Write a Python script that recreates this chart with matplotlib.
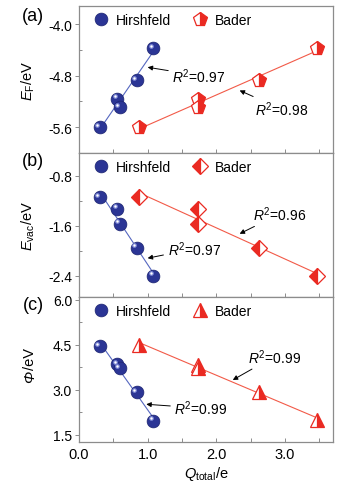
import numpy as np
import matplotlib
matplotlib.use('Agg')
import matplotlib.pyplot as plt
from matplotlib import transforms
from matplotlib.ticker import MultipleLocator, FormatStrFormatter

plt.rcParams['font.family'] = ['Liberation Sans', 'DejaVu Sans']
plt.rcParams['mathtext.fontset'] = 'custom'
plt.rcParams['mathtext.rm'] = 'Liberation Sans'
plt.rcParams['mathtext.it'] = 'Liberation Sans:italic'
plt.rcParams['axes.unicode_minus'] = False

# charge (x) values
q_hirsh = [0.30, 0.56, 0.59, 0.84, 1.08]
q_bader = [0.88, 1.74, 1.74, 2.62, 3.47]

# (a) Fermi level
ef_hirsh = [-5.60, -5.16, -5.29, -4.87, -4.37]
ef_bader = [-5.60, -5.16, -5.29, -4.87, -4.37]
# (b) vacuum level
evac_hirsh = [-1.15, -1.33, -1.57, -1.95, -2.40]
evac_bader = [-1.15, -1.33, -1.57, -1.95, -2.40]
# (c) work function
phi_hirsh = [4.46, 3.86, 3.72, 2.92, 1.97]
phi_bader = [4.50, 3.83, 3.74, 2.94, 2.00]

r2_hirsh = ['0.97', '0.97', '0.99']
r2_bader = ['0.98', '0.96', '0.99']

blue = '#2b3595'
red = '#ea2a22'
blue_line = '#5567c0'
red_line = '#f25a48'
spine_col = '#8c8c8c'

fig = plt.figure(figsize=(3.45, 4.89), dpi=100)
L, W = 79/345, 254/345
tops = [7, 154, 298, 443]
axes = []
for i in range(3):
    b = 1 - tops[i+1]/489
    h = (tops[i+1] - tops[i])/489
    axes.append(fig.add_axes([L, b, W, h]))

panels = [
    ('(a)', ef_hirsh, ef_bader, 'p', 'right', r'$\mathit{E}_{\mathrm{F}}$/eV', (-6.0, -3.72), 0.8, 0.4),
    ('(b)', evac_hirsh, evac_bader, 'D', 'left', r'$\mathit{E}_{\mathrm{vac}}$/eV', (-2.74, -0.44), 0.8, 0.4),
    ('(c)', phi_hirsh, phi_bader, '^', 'right', None, (1.26, 6.1), 1.5, 0.75),
]
msize = {'p': 10.5, 'D': 8.5, '^': 10}

# annotation positions (text, arrow tip) in data coords
ann_h = [((1.36, -4.80), (1.0, -4.67)), ((1.29, -1.97), (1.0, -2.12)), ((1.39, 2.39), (0.98, 2.52))]
ann_b = [((2.56, -5.32), (2.34, -5.03)), ((2.54, -1.41), (2.34, -1.73)), ((2.46, 4.12), (2.24, 3.33))]

for k, ax in enumerate(axes):
    lab, yh, yb, mk, fs, ylab, ylim, major, minor = panels[k]

    # linear fits
    for xs, ys, c in [(q_hirsh, yh, blue_line), (q_bader, yb, red_line)]:
        p = np.polyfit(xs, ys, 1)
        xx = np.array([min(xs), max(xs)])
        ax.plot(xx, np.polyval(p, xx), '-', color=c, lw=0.8, zorder=2)

    h1, = ax.plot(q_hirsh, yh, 'o', ms=9.2, color=blue, mec='#1c2470', mew=0.5,
                  ls='none', zorder=3)
    off = transforms.offset_copy(ax.transData, fig=fig, x=-1.7, y=1.7, units='points')
    ax.plot(q_hirsh, yh, 'o', ms=3.4, color='#7f8ad6', mec='none', ls='none',
            zorder=4, transform=off)
    ax.plot(q_hirsh, yh, 'o', ms=1.7, color='white', mec='none', ls='none',
            zorder=5, transform=off)
    h2, = ax.plot(q_bader, yb, mk, ms=msize[mk], fillstyle=fs, color=red,
                  markerfacecoloralt='white', mec=red, mew=0.9, ls='none', zorder=3)

    ax.legend([h1, h2], ['Hirshfeld', 'Bader'], ncol=2, loc='upper left',
              frameon=False, fontsize=10, handletextpad=0.6, columnspacing=1.6,
              borderaxespad=0.1, bbox_to_anchor=(0.03, 1.0), handlelength=1.0)

    for (txt, tip), r2 in [(ann_h[k], r2_hirsh[k]), (ann_b[k], r2_bader[k])]:
        ax.annotate(r'$\mathit{R}^{2}$=' + r2, xy=tip, xytext=txt, fontsize=10,
                    ha='left', va='center',
                    arrowprops=dict(arrowstyle='-|>', color='black', lw=0.7,
                                    mutation_scale=7, shrinkA=1, shrinkB=0))

    ax.set_xlim(0, 3.7)
    ax.set_ylim(*ylim)
    ax.yaxis.set_major_locator(MultipleLocator(major))
    ax.yaxis.set_minor_locator(MultipleLocator(minor))
    ax.xaxis.set_major_locator(MultipleLocator(1.0))
    ax.xaxis.set_minor_locator(MultipleLocator(0.5))
    ax.tick_params(axis='x', which='both', direction='in', length=3, width=0.7,
                   color=spine_col, labelsize=10.5)
    ax.tick_params(axis='y', which='major', direction='out', length=3, width=0.7,
                   color=spine_col, labelsize=10, pad=2)
    ax.tick_params(axis='y', which='minor', direction='in', length=2, width=0.7,
                   color=spine_col)
    ax.yaxis.set_major_formatter(FormatStrFormatter('%.1f'))
    ax.xaxis.set_major_formatter(FormatStrFormatter('%.1f'))
    if k < 2:
        ax.tick_params(axis='x', labelbottom=False)
    for s in ax.spines.values():
        s.set_color(spine_col)
        s.set_linewidth(0.9)
    if ylab is not None:
        ax.set_ylabel(ylab, fontsize=10.5)
        ax.yaxis.set_label_coords(-0.165, 0.5)
    else:
        # italic Phi followed by upright "/eV" (mathtext keeps Greek capitals upright)
        ax.text(-0.165, 0.5, '/eV', transform=ax.transAxes, rotation=90,
                ha='right', va='bottom', fontsize=10.5)
        ax.text(-0.165, 0.5, 'Φ', transform=ax.transAxes, rotation=90,
                ha='right', va='top', fontsize=10.5, fontstyle='italic')
    ax.text(-0.18, 0.99 if k == 0 else 1.01, lab, transform=ax.transAxes,
            fontsize=13, ha='center', va='top')

axes[2].set_xlabel(r'$\mathit{Q}_{\mathrm{total}}$/e', fontsize=10.5, labelpad=2)

fig.savefig('out.png', dpi=100)
